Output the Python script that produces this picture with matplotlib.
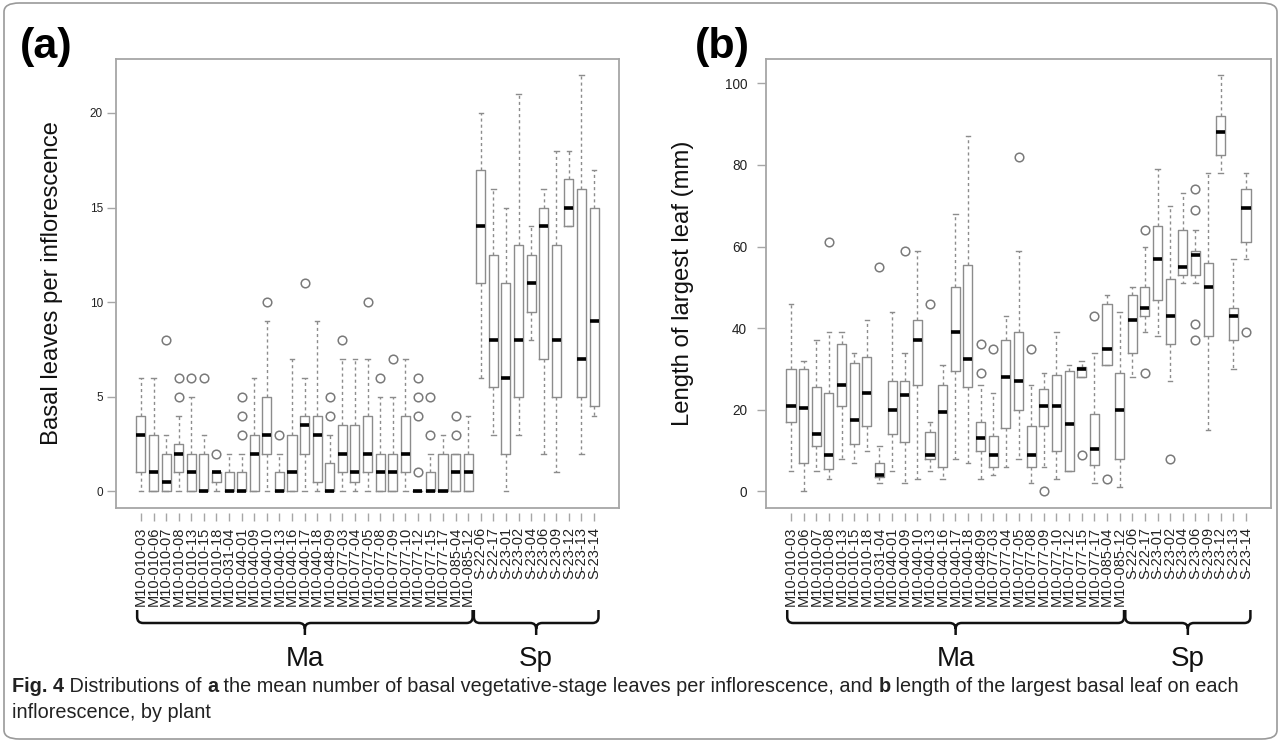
import numpy as np
import matplotlib
matplotlib.use("Agg")
import matplotlib.pyplot as plt
from matplotlib.patches import FancyBboxPatch, PathPatch
from matplotlib.path import Path
import matplotlib.transforms as mtrans
import matplotlib.font_manager as fm

plt.rcParams['font.family'] = ['Liberation Sans', 'DejaVu Sans']

# ---------------- data ----------------
plants = ["M10-010-03", "M10-010-06", "M10-010-07", "M10-010-08", "M10-010-13",
          "M10-010-15", "M10-010-18", "M10-031-04", "M10-040-01", "M10-040-09",
          "M10-040-10", "M10-040-13", "M10-040-16", "M10-040-17", "M10-040-18",
          "M10-048-09", "M10-077-03", "M10-077-04", "M10-077-05", "M10-077-08",
          "M10-077-09", "M10-077-10", "M10-077-12", "M10-077-15", "M10-077-17",
          "M10-085-04", "M10-085-12",
          "S-22-06", "S-22-17", "S-23-01", "S-23-02", "S-23-04", "S-23-06",
          "S-23-09", "S-23-12", "S-23-13", "S-23-14"]
groups = ["Ma", "Sp"]
group_sizes = [27, 10]

# (a) basal leaves per inflorescence
basal_whislo = [0, 0, 0, 0, 0, 0, 0, 0, 0, 0, 0, 0, 0, 0, 0, 0, 0, 0, 0, 0, 0, 0, 0, 0, 0, 0, 0,
                6, 3, 0, 3, 8, 2, 1, 14, 2, 4]
basal_q1 = [1, 0, 0, 1, 0, 0, 0.5, 0, 0, 0, 2, 0, 0, 2, 0.5, 0, 1, 0.5, 1, 0, 0, 1, 0, 0, 0, 0, 0,
            11, 5.5, 2, 5, 9.5, 7, 5, 14, 5, 4.5]
basal_med = [3, 1, 0.5, 2, 1, 0, 1, 0, 0, 2, 3, 0, 1, 3.5, 3, 0, 2, 1, 2, 1, 1, 2, 0, 0, 0, 1, 1,
             14, 8, 6, 8, 11, 14, 8, 15, 7, 9]
basal_q3 = [4, 3, 2, 2.5, 2, 2, 1, 1, 1, 3, 5, 1, 3, 4, 4, 1.5, 3.5, 3.5, 4, 2, 2, 4, 0, 1, 2, 2, 2,
            17, 12.5, 11, 13, 12.5, 15, 13, 16.5, 16, 15]
basal_whishi = [6, 6, 3, 4, 5, 3, 1, 2, 2, 6, 9, 2, 7, 6, 9, 3, 7, 7, 7, 5, 5, 7, 0, 2, 3, 2, 4,
                20, 16, 15, 21, 14, 16, 18, 18, 22, 17]
basal_fliers = [[], [], [8], [5, 6], [6], [6], [2], [], [3, 4, 5], [], [10], [3], [], [11], [],
                [4, 5], [8], [], [10], [6], [7], [], [1, 4, 5, 6], [3, 5], [], [3, 4], [],
                [], [], [], [], [], [], [], [], [], []]

# (b) length of largest leaf (mm)
leaf_whislo = [5, 0, 5, 3, 8, 7, 10, 2, 5, 2, 3, 5, 3, 8, 7, 3, 4, 6, 8, 2, 6, 3, 5, 28, 2, 31, 1,
               28, 39, 38, 27, 51, 51, 15, 78, 30, 57]
leaf_q1 = [17, 7, 11, 5.5, 21, 11.5, 16, 3.5, 14, 12, 26, 8, 6, 29.5, 25.5, 10, 6, 15.5, 20, 6, 16,
           10, 5, 28, 6.5, 31, 8,
           34, 43, 47, 36, 53, 53, 38, 82.5, 37, 61]
leaf_med = [21, 20.5, 14, 9, 26, 17.5, 24, 4, 20, 23.5, 37, 9, 19.5, 39, 32.5, 13, 9, 28, 27, 9, 21,
            21, 16.5, 30, 10.5, 35, 20,
            42, 45, 57, 43, 55, 58, 50, 88, 43, 69.5]
leaf_q3 = [30, 30, 25.5, 24, 36, 31.5, 33, 7, 27, 27, 42, 14.5, 26, 50, 55.5, 17, 13.5, 37, 39, 16,
           25, 28.5, 29.5, 30.5, 19, 46, 29,
           48, 50, 65, 52, 64, 59, 56, 92, 45, 74]
leaf_whishi = [46, 32, 37, 39, 39, 34, 42, 11, 44, 34, 59, 17, 31, 68, 87, 26, 24, 43, 59, 26, 29,
               39, 31, 32, 34, 48, 44,
               50, 60, 79, 70, 73, 64, 78, 102, 57, 78]
leaf_fliers = [[], [], [], [61], [], [], [], [55], [], [59], [], [46], [], [], [], [29, 36], [35],
               [], [82], [35], [0], [], [], [9], [43], [3], [],
               [], [64, 29], [], [8], [], [74, 69, 41, 37], [], [], [], [39]]

caption_segments = [("Fig. 4", True), (" Distributions of ", False), ("a", True),
                    (" the mean number of basal vegetative-stage leaves per inflorescence, and ", False),
                    ("b", True), (" length of the largest basal leaf on each", False)]
caption_line2 = "inflorescence, by plant"

# ---------------- figure ----------------
W, H = 1281, 742
fig = plt.figure(figsize=(W / 100, H / 100), dpi=100)

BOX_EC = '#8c8c8c'
FRAME = '#a6a6a6'


def add_axes_px(l, t, r, b):
    return fig.add_axes([l / W, 1 - b / H, (r - l) / W, (b - t) / H])


def draw_panel(ax, lo, q1, med, q3, hi, fl, yticks, ylabel, ytick_fs, ytick_pad):
    n = len(plants)
    stats = [dict(whislo=lo[i], q1=q1[i], med=med[i], q3=q3[i], whishi=hi[i],
                  fliers=fl[i], label=plants[i]) for i in range(n)]
    pos = np.arange(1, n + 1)
    ax.bxp(stats, positions=pos, widths=0.72, showfliers=True, capwidths=0.36,
           boxprops=dict(color=BOX_EC, lw=1.0),
           medianprops=dict(color='black', lw=2.6, solid_capstyle='butt'),
           whiskerprops=dict(color=BOX_EC, lw=1.0, linestyle=(0, (2.2, 2.2))),
           capprops=dict(color=BOX_EC, lw=1.0),
           flierprops=dict(marker='o', markerfacecolor='none', markeredgecolor='#7a7a7a',
                           markersize=6.2, markeredgewidth=1.1))
    allv = lo + hi + [v for f in fl for v in f]
    vmin, vmax = min(allv), max(allv)
    pad = 0.04 * (vmax - vmin)
    ax.set_ylim(vmin - pad, vmax + pad)
    ax.set_xlim(0.5 - 0.04 * n, n + 0.5 + 0.04 * n)
    for s in ax.spines.values():
        s.set_color(FRAME)
        s.set_linewidth(1.3)
    ax.set_yticks(yticks)
    ax.set_yticklabels([str(v) for v in yticks])
    ax.tick_params(axis='y', length=6.5, width=1.0, color=FRAME, labelsize=ytick_fs,
                   labelcolor='#222222', pad=ytick_pad)
    ax.set_xticks([])
    bb = ax.get_position()
    off = 5 / (bb.height * H)
    sec = ax.secondary_xaxis(-off)
    sec.set_xticks(pos)
    sec.set_xticklabels(plants, rotation=90, fontsize=10.5, color='#222222')
    sec.tick_params(axis='x', length=6, width=1.0, color=FRAME, pad=4)
    sec.spines['bottom'].set_visible(False)
    ax.set_ylabel(ylabel, fontsize=17.2, color='#111111')
    return pos


axA = add_axes_px(116, 58.5, 619, 508)
draw_panel(axA, basal_whislo, basal_q1, basal_med, basal_q3, basal_whishi, basal_fliers,
           [0, 5, 10, 15, 20], "Basal leaves per inflorescence", 8.5, 3)
axA.yaxis.set_label_coords(-0.106, 0.5)

axB = add_axes_px(766, 58.5, 1271, 508)
draw_panel(axB, leaf_whislo, leaf_q1, leaf_med, leaf_q3, leaf_whishi, leaf_fliers,
           [0, 20, 40, 60, 80, 100], "Length of largest leaf (mm)", 9.8, 7)
axB.yaxis.set_label_coords(-0.142, 0.5)

fig.text(20 / W, 1 - 47 / H, "(a)", fontsize=31, fontweight='bold', va='center', ha='left')
fig.text(695 / W, 1 - 47 / H, "(b)", fontsize=31, fontweight='bold', va='center', ha='left')


# brackets below the tick labels
def bracket(ax, x0d, x1d, label):
    tr = ax.transData
    x0 = tr.transform((x0d, 0))[0]
    x1 = tr.transform((x1d, 0))[0]
    xc = 0.5 * (x0 + x1)
    yt, yh, yb, r = H - 610, H - 623, H - 635, 6
    verts = [(x0, yt), (x0, yh + r), (x0, yh), (x0 + r, yh), (xc - r, yh), (xc, yh), (xc, yh - r),
             (xc, yb),
             (xc, yh - r), (xc, yh), (xc + r, yh), (x1 - r, yh), (x1, yh), (x1, yh + r), (x1, yt)]
    codes = [Path.MOVETO, Path.LINETO, Path.CURVE3, Path.CURVE3, Path.LINETO, Path.CURVE3,
             Path.CURVE3, Path.LINETO,
             Path.MOVETO, Path.CURVE3, Path.CURVE3, Path.LINETO, Path.CURVE3, Path.CURVE3,
             Path.LINETO]
    fig.add_artist(PathPatch(Path(verts, codes), fill=False, lw=1.8, ec='#111111',
                             transform=mtrans.IdentityTransform()))
    fig.text(xc / W, 1 - 659 / H, label, fontsize=20, ha='center', va='center', color='#111111')


for ax in (axA, axB):
    start = 1
    for g, nsz in zip(groups, group_sizes):
        end = start + nsz - 1
        lo_ext = 0.3 if start == 1 else 0.55
        bracket(ax, start - lo_ext, end + 0.35, g)
        start = end + 1

# outer rounded border
fig.add_artist(FancyBboxPatch((4 / W, 3 / H), (W - 8) / W, (H - 6) / H,
                              boxstyle="round,pad=0,rounding_size=0.012",
                              transform=fig.transFigure, fill=False, ec='#9a9a9a', lw=1.2))

# caption (font size fitted to the reference line width)
names = {f.name for f in fm.fontManager.ttflist}
cap_family = ['Liberation Sans Narrow', 'Liberation Sans'] if 'Liberation Sans Narrow' in names \
    else ['Liberation Sans', 'DejaVu Sans']
fig.canvas.draw()
rend = fig.canvas.get_renderer()


def caption_width(fs):
    total = 0.0
    for txt, bold in caption_segments:
        t = fig.text(0, 0, txt, fontsize=fs, family=cap_family,
                     fontweight='bold' if bold else 'normal')
        total += t.get_window_extent(renderer=rend).width
        t.remove()
    return total


cap_fs = 10.0 * 1228.0 / caption_width(10.0)
cap_fs = min(cap_fs, 14.5)
x = 12.0
for txt, bold in caption_segments:
    t = fig.text(x / W, 1 - 692 / H, txt, fontsize=cap_fs, family=cap_family,
                 fontweight='bold' if bold else 'normal',
                 va='baseline', ha='left', color='#222222')
    x += t.get_window_extent(renderer=rend).width
fig.text(12 / W, 1 - 718 / H, caption_line2, fontsize=cap_fs, family=cap_family,
         va='baseline', ha='left', color='#222222')

fig.savefig("out.png", dpi=100)
